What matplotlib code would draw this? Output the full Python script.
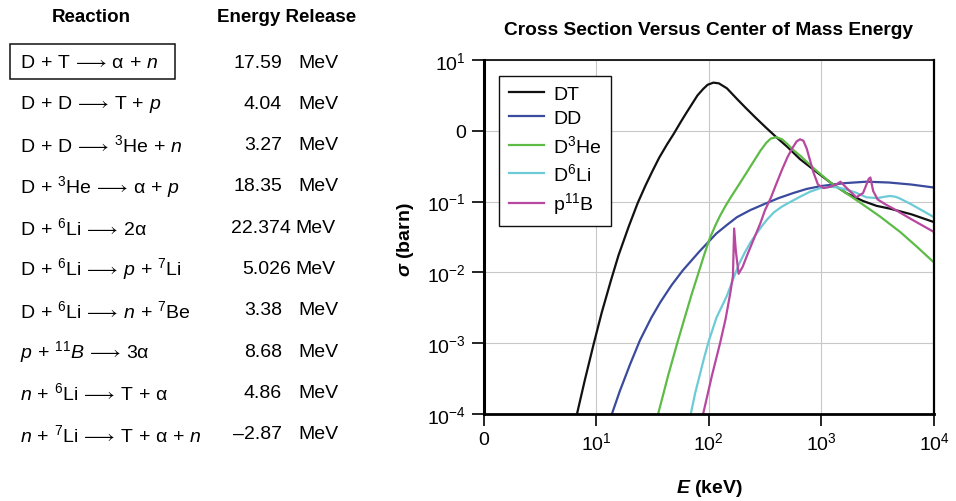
import matplotlib
matplotlib.use("Agg")
import matplotlib.pyplot as plt
from matplotlib.ticker import NullLocator

plt.rcParams["font.family"] = ["Liberation Sans", "DejaVu Sans"]
plt.rcParams["mathtext.fontset"] = "custom"
plt.rcParams["mathtext.rm"] = "Liberation Sans"
plt.rcParams["mathtext.it"] = "Liberation Sans:italic"
plt.rcParams["mathtext.bf"] = "Liberation Sans:bold"
plt.rcParams["mathtext.bfit"] = "Liberation Sans:italic:bold"

W, H = 956, 502

# ---- table data
reactions = [
    r"$\mathrm{D}\,+\,\mathrm{T}\,\longrightarrow\,\mathrm{\alpha}\,+\,n$",
    r"$\mathrm{D}\,+\,\mathrm{D}\,\longrightarrow\,\mathrm{T}\,+\,p$",
    r"$\mathrm{D}\,+\,\mathrm{D}\,\longrightarrow\,{}^{3}\mathrm{He}\,+\,n$",
    r"$\mathrm{D}\,+\,{}^{3}\mathrm{He}\,\longrightarrow\,\mathrm{\alpha}\,+\,p$",
    r"$\mathrm{D}\,+\,{}^{6}\mathrm{Li}\,\longrightarrow\,\mathrm{2\alpha}$",
    r"$\mathrm{D}\,+\,{}^{6}\mathrm{Li}\,\longrightarrow\,p\,+\,{}^{7}\mathrm{Li}$",
    r"$\mathrm{D}\,+\,{}^{6}\mathrm{Li}\,\longrightarrow\,n\,+\,{}^{7}\mathrm{Be}$",
    r"$p\,+\,{}^{11}B\,\longrightarrow\,\mathrm{3\alpha}$",
    r"$n\,+\,{}^{6}\mathrm{Li}\,\longrightarrow\,\mathrm{T}\,+\,\mathrm{\alpha}$",
    r"$n\,+\,{}^{7}\mathrm{Li}\,\longrightarrow\,\mathrm{T}\,+\,\mathrm{\alpha}\,+\,n$",
]
energy_release = ["17.59", "4.04", "3.27", "18.35", "22.374",
                  "5.026", "3.38", "8.68", "4.86", "\u20132.87"]

# ---- cross sections (E in keV, sigma in barn)
dt_e = [6.76, 7.94, 9.55, 11.2, 13.5, 15.8, 19.5, 23.4, 27.5, 31.6, 36.3,
        42.7, 49.0, 56.2, 63.1, 72.4, 79.4, 89.1, 97.7, 110, 123, 145, 178,
        214, 263, 324, 398, 501, 646, 871, 1202, 1660, 2344, 3090, 4074,
        6310, 10000]
dt_s = [1e-4, 3.02e-4, 1e-3, 2.69e-3, 7.59e-3, 0.0174, 0.0447, 0.0955, 0.170,
        0.269, 0.417, 0.646, 0.912, 1.32, 1.78, 2.51, 3.16, 3.89, 4.47, 4.79,
        4.68, 3.98, 2.82, 2.09, 1.51, 1.10, 0.813, 0.589, 0.398, 0.275, 0.186,
        0.132, 0.102, 0.0871, 0.0794, 0.0661, 0.0513]

dd_e = [13.8, 16.2, 20.0, 24.5, 30.9, 37.2, 46.8, 58.9, 83.2, 117, 145, 178,
        234, 316, 417, 562, 741, 1000, 1585, 2512, 3981, 6310, 10000]
dd_s = [1e-4, 2.09e-4, 5.01e-4, 1.10e-3, 2.29e-3, 3.80e-3, 6.61e-3, 0.0107,
        0.02, 0.0355, 0.0468, 0.0603, 0.0759, 0.0933, 0.112, 0.132, 0.151,
        0.166, 0.182, 0.191, 0.186, 0.174, 0.158]

dhe3_e = [35.5, 39.8, 43.7, 52.5, 61.7, 70.8, 81.3, 91.2, 102, 115, 126, 141,
          158, 182, 209, 251, 288, 324, 355, 398, 447, 501, 562, 646, 871,
          1202, 1622, 2188, 3311, 5012, 7079, 10000]
dhe3_s = [1e-4, 2.0e-4, 3.55e-4, 1e-3, 2.40e-3, 5.01e-3, 0.01, 0.0178, 0.0302,
          0.0468, 0.0631, 0.0871, 0.117, 0.166, 0.234, 0.372, 0.525, 0.676,
          0.776, 0.813, 0.759, 0.646, 0.537, 0.447, 0.288, 0.186, 0.135,
          0.0977, 0.0617, 0.0372, 0.0229, 0.0138]

dli6_e = [69.2, 75.9, 83.2, 91.2, 100, 117, 145, 166, 186, 209, 234, 263, 295,
          331, 380, 447, 537, 646, 794, 977, 1202, 1413, 1660, 1995, 2512,
          3162, 3631, 4074, 4571, 5012, 6310, 7943, 10000]
dli6_s = [1e-4, 2.0e-4, 3.55e-4, 6.31e-4, 1.07e-3, 2.29e-3, 4.68e-3, 8.32e-3,
          0.0132, 0.0191, 0.0263, 0.0347, 0.0447, 0.0562, 0.0708, 0.0851, 0.1,
          0.117, 0.138, 0.155, 0.162, 0.158, 0.148, 0.135, 0.115, 0.112, 0.117,
          0.120, 0.117, 0.110, 0.0912, 0.0741, 0.0603]

pb11_e = [89.1, 107, 126, 141, 155, 164, 168, 174, 184, 200, 219, 251, 288,
          316, 355, 398, 447, 501, 550, 603, 646, 692, 741, 794, 851, 933,
          1047, 1202, 1349, 1479, 1660, 2042, 2344, 2630, 2723, 2884, 3162,
          3715, 4365, 6310, 10000]
pb11_s = [1e-4, 3.55e-4, 1e-3, 2.19e-3, 5.01e-3, 8.91e-3, 0.0417, 0.02,
          9.55e-3, 0.012, 0.0174, 0.0295, 0.0501, 0.0759, 0.112, 0.178, 0.282,
          0.427, 0.562, 0.708, 0.759, 0.724, 0.562, 0.380, 0.257, 0.174, 0.155,
          0.162, 0.174, 0.191, 0.158, 0.115, 0.132, 0.209, 0.219, 0.141, 0.107,
          0.0912, 0.0794, 0.0562, 0.0372]

series = [
    ("DT", dt_e, dt_s, "#111111"),
    ("DD", dd_e, dd_s, "#3a4a9c"),
    (r"D$^{3}$He", dhe3_e, dhe3_s, "#5dbb46"),
    (r"D$^{6}$Li", dli6_e, dli6_s, "#6ccbd6"),
    (r"p$^{11}$B", pb11_e, pb11_s, "#b7479f"),
]

x_ticks = [1, 10, 100, 1000, 10000]
x_tick_labels = ["0", r"10$^{1}$", r"10$^{2}$", r"10$^{3}$", r"10$^{4}$"]
y_ticks = [1e1, 1e0, 1e-1, 1e-2, 1e-3, 1e-4]
y_tick_labels = [r"10$^{1}$", "0", r"10$^{-1}$", r"10$^{-2}$",
                 r"10$^{-3}$", r"10$^{-4}$"]


def px(x, y):
    return x / W, 1 - y / H


fig = plt.figure(figsize=(W / 100, H / 100), dpi=100, facecolor="white")

# ---- table
fig.text(*px(91, 18), "Reaction", ha="center", va="center",
         fontsize=13.5, fontweight="bold")
fig.text(*px(287, 18), "Energy Release", ha="center", va="center",
         fontsize=13.5, fontweight="bold")
for i, (rx, en) in enumerate(zip(reactions, energy_release)):
    y = 63 + i * 41.3
    fig.text(*px(20, y), rx, ha="left", va="center", fontsize=14)
    three = len(en.split(".")[-1]) == 3
    fig.text(*px(291 if three else 282, y), en, ha="right", va="center",
             fontsize=14)
    fig.text(*px(295 if three else 298, y), "MeV", ha="left", va="center",
             fontsize=14)
    if i == 0:
        x0, y0 = px(10, 80)
        x1, y1 = px(175, 45)
        fig.patches.append(plt.Rectangle((x0, y0), x1 - x0, y1 - y0,
                                         transform=fig.transFigure,
                                         fill=False, edgecolor="#111111",
                                         linewidth=1.1))

# ---- chart
ax = fig.add_axes([483.5 / W, 1 - 415 / H, 450.5 / W, 354 / H])
for label, e, s, c in series:
    ax.plot(e, s, color=c, linewidth=1.6, label=label,
            solid_joinstyle="round")

ax.set_xscale("log")
ax.set_yscale("log")
ax.set_xlim(1, 1e4)
ax.set_ylim(1e-4, 1e1)
ax.set_xticks(x_ticks)
ax.set_xticklabels(x_tick_labels)
ax.set_yticks(y_ticks)
ax.set_yticklabels(y_tick_labels)
ax.xaxis.set_minor_locator(NullLocator())
ax.yaxis.set_minor_locator(NullLocator())
ax.tick_params(axis="both", direction="out", length=8.5, width=1.2,
               labelsize=14, pad=4)
ax.grid(True, color="#c8c8c8", linewidth=0.8)
ax.set_axisbelow(True)
ax.spines["left"].set_linewidth(2.2)
ax.spines["bottom"].set_linewidth(2.0)
ax.spines["right"].set_linewidth(1.6)
ax.spines["top"].set_linewidth(1.2)

leg = ax.legend(loc="upper left", bbox_to_anchor=(0.034, 0.955),
                borderaxespad=0, fontsize=14, frameon=True, fancybox=False,
                framealpha=1, edgecolor="#111111", handlelength=1.8,
                handletextpad=0.5, labelspacing=0.33, borderpad=0.5)
leg.get_frame().set_linewidth(1.0)

fig.text(*px(708.75, 31), "Cross Section Versus Center of Mass Energy",
         ha="center", va="center", fontsize=13.8, fontweight="bold")
fig.text(*px(405, 240), r"$\mathbfit{\sigma}$ (barn)", rotation=90,
         ha="center", va="center", fontsize=14, fontweight="bold")
fig.text(*px(710, 489), r"$\mathbfit{E}$ (keV)", ha="center", va="center",
         fontsize=14, fontweight="bold")

fig.savefig("out.png", dpi=100, facecolor="white")
